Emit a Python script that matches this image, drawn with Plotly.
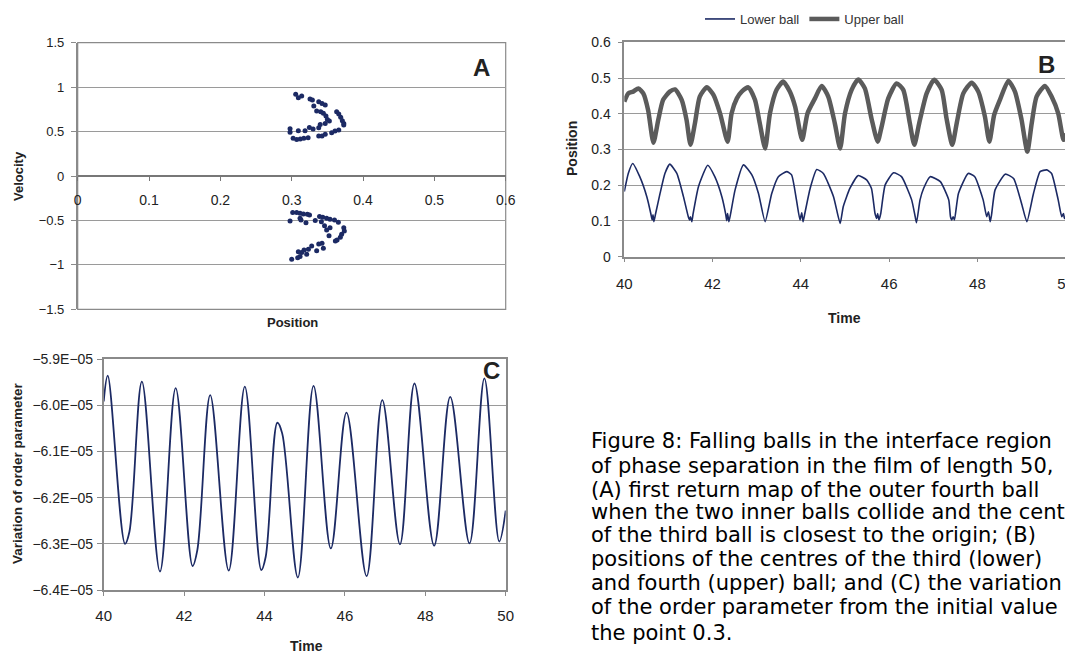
import plotly.graph_objects as go

# ---------------- Panel A : first return map ----------------
a_pos_up = [0.3056, 0.3093, 0.3140, 0.3257, 0.3290, 0.3310, 0.3379, 0.3425, 0.3470, 0.3350,
            0.3407, 0.3444, 0.3480, 0.3500, 0.3528, 0.3470, 0.3630, 0.3660, 0.3687, 0.3710,
            0.3730, 0.3730, 0.3400, 0.3379, 0.3300, 0.3248, 0.3187, 0.3093, 0.2977, 0.2977,
            0.3020, 0.3070, 0.3120, 0.3170, 0.3230, 0.3379, 0.3425, 0.3470, 0.3560, 0.3607,
            0.3660]
a_vel_up = [0.919, 0.881, 0.900, 0.866, 0.855, 0.787, 0.836, 0.817, 0.799, 0.731,
            0.724, 0.705, 0.675, 0.637, 0.619, 0.592, 0.724, 0.697, 0.660, 0.622,
            0.592, 0.574, 0.580, 0.544, 0.529, 0.547, 0.510, 0.510, 0.532, 0.491,
            0.424, 0.412, 0.416, 0.424, 0.431, 0.450, 0.450, 0.469, 0.487, 0.506,
            0.517]
a_pos_dn = [0.3014, 0.3070, 0.3117, 0.3164, 0.3220, 0.3250, 0.2977, 0.3117, 0.3130, 0.3200,
            0.3330, 0.3390, 0.3435, 0.3490, 0.3537, 0.3600, 0.3654, 0.3416, 0.3460, 0.3490,
            0.3523, 0.3537, 0.3730, 0.3738, 0.3700, 0.3682, 0.3636, 0.3612, 0.3425, 0.3379,
            0.3444, 0.3350, 0.3280, 0.3234, 0.3173, 0.3140, 0.3093, 0.3210, 0.3117, 0.3084,
            0.3000]
a_vel_dn = [-0.412, -0.412, -0.420, -0.427, -0.431, -0.439, -0.506, -0.476, -0.495, -0.525,
            -0.502, -0.457, -0.465, -0.476, -0.487, -0.495, -0.521, -0.514, -0.559, -0.607,
            -0.671, -0.581, -0.581, -0.619, -0.656, -0.690, -0.720, -0.731, -0.757, -0.765,
            -0.814, -0.840, -0.787, -0.825, -0.832, -0.862, -0.851, -0.881, -0.907, -0.919,
            -0.937]

# ---------------- Panel B : ball positions ----------------
b_t_upper = [40.00, 40.09, 40.20, 40.32, 40.43, 40.54, 40.66, 40.77, 40.88, 41.03, 41.15, 41.30,
             41.41, 41.50, 41.60, 41.71, 41.87, 42.02, 42.17, 42.34, 42.43, 42.55, 42.66, 42.81,
             42.96, 43.07, 43.19, 43.30, 43.45, 43.60, 43.75, 43.87, 44.03, 44.15, 44.32, 44.47,
             44.62, 44.77, 44.89, 45.00, 45.15, 45.30, 45.45, 45.60, 45.74, 45.83, 45.98, 46.17,
             46.32, 46.47, 46.57, 46.68, 46.85, 47.02, 47.19, 47.30, 47.43, 47.53, 47.68, 47.87,
             48.02, 48.17, 48.27, 48.38, 48.51, 48.70, 48.85, 49.00, 49.13, 49.23, 49.34, 49.53,
             49.68, 49.83, 49.95, 50.00]
b_upper = [0.434, 0.457, 0.462, 0.471, 0.457, 0.410, 0.319, 0.383, 0.439, 0.462, 0.468, 0.439,
           0.383, 0.313, 0.373, 0.448, 0.474, 0.453, 0.401, 0.322, 0.401, 0.443, 0.462, 0.474,
           0.439, 0.373, 0.303, 0.401, 0.467, 0.490, 0.462, 0.420, 0.327, 0.401, 0.443, 0.478,
           0.448, 0.373, 0.303, 0.401, 0.467, 0.496, 0.471, 0.387, 0.322, 0.364, 0.443, 0.485,
           0.467, 0.373, 0.313, 0.373, 0.457, 0.495, 0.467, 0.387, 0.313, 0.373, 0.457, 0.487,
           0.462, 0.392, 0.322, 0.397, 0.439, 0.492, 0.462, 0.383, 0.294, 0.373, 0.448, 0.478,
           0.448, 0.401, 0.327, 0.345]

b_t_lower = [40.00, 40.09, 40.19, 40.35, 40.51, 40.60, 40.63, 40.65, 40.67, 40.71, 40.81, 40.92,
             41.03, 41.19, 41.34, 41.45, 41.48, 41.50, 41.53, 41.56, 41.68, 41.89, 42.05, 42.21,
             42.30, 42.32, 42.34, 42.37, 42.41, 42.51, 42.70, 42.89, 43.04, 43.19, 43.34, 43.49,
             43.68, 43.79, 43.90, 43.98, 44.02, 44.05, 44.09, 44.21, 44.36, 44.51, 44.74, 44.89,
             44.96, 45.11, 45.30, 45.49, 45.60, 45.68, 45.72, 45.74, 45.77, 45.81, 45.91, 46.10,
             46.28, 46.51, 46.59, 46.62, 46.70, 46.78, 46.93, 47.16, 47.35, 47.39, 47.42, 47.45,
             47.48, 47.57, 47.79, 47.94, 48.13, 48.21, 48.25, 48.29, 48.32, 48.40, 48.63, 48.82,
             49.00, 49.12, 49.27, 49.42, 49.57, 49.68, 49.83, 49.91, 49.95, 49.97, 50.00]
b_lower = [0.182, 0.233, 0.261, 0.224, 0.168, 0.121, 0.103, 0.117, 0.098, 0.121, 0.177, 0.233,
           0.259, 0.233, 0.168, 0.112, 0.103, 0.112, 0.098, 0.121, 0.196, 0.256, 0.224, 0.168,
           0.117, 0.101, 0.121, 0.098, 0.121, 0.187, 0.257, 0.229, 0.177, 0.098, 0.177, 0.224,
           0.238, 0.229, 0.159, 0.103, 0.123, 0.098, 0.121, 0.191, 0.244, 0.233, 0.168, 0.093,
           0.140, 0.191, 0.227, 0.215, 0.191, 0.121, 0.107, 0.121, 0.103, 0.121, 0.201, 0.235,
           0.224, 0.159, 0.112, 0.095, 0.159, 0.191, 0.224, 0.210, 0.159, 0.112, 0.103, 0.112,
           0.103, 0.177, 0.233, 0.224, 0.159, 0.112, 0.126, 0.098, 0.117, 0.187, 0.231, 0.219,
           0.149, 0.098, 0.177, 0.238, 0.243, 0.233, 0.159, 0.112, 0.121, 0.107, 0.112]

# ---------------- Panel C : order parameter ----------------
c_t = [40.00, 40.10, 40.53, 40.64, 40.95, 41.40, 41.79, 42.21, 42.33, 42.65, 43.11, 43.51,
       43.92, 44.03, 44.32, 44.44, 44.83, 45.22, 45.65, 46.04, 46.54, 46.93, 47.37, 47.73,
       48.22, 48.62, 49.10, 49.47, 49.84, 50.00]
c_val = [-5.992e-5, -5.936e-5, -6.300e-5, -6.274e-5, -5.949e-5, -6.360e-5, -5.963e-5, -6.348e-5,
         -6.313e-5, -5.978e-5, -6.358e-5, -5.960e-5, -6.357e-5, -6.328e-5, -6.038e-5, -6.061e-5,
         -6.373e-5, -5.958e-5, -6.310e-5, -6.016e-5, -6.370e-5, -5.989e-5, -6.301e-5, -5.953e-5,
         -6.304e-5, -5.982e-5, -6.299e-5, -5.942e-5, -6.295e-5, -6.228e-5]
c_tickvals = [-5.9e-5, -6.0e-5, -6.1e-5, -6.2e-5, -6.3e-5, -6.4e-5]
c_ticktext = ["\u22125.9E\u221205", "\u22126.0E\u221205", "\u22126.1E\u221205",
              "\u22126.2E\u221205", "\u22126.3E\u221205", "\u22126.4E\u221205"]

caption_lines = [
    "Figure 8: Falling balls in the interface region",
    "of phase separation in the film of length 50,",
    "(A) first return map of the outer fourth ball",
    "when the two inner balls collide and the centre",
    "of the third ball is closest to the origin; (B)",
    "positions of the centres of the third (lower)",
    "and fourth (upper) ball; and (C) the variation",
    "of the order parameter from the initial value at",
    "the point 0.3.",
]
caption_baselines = [448, 473, 497, 519, 542, 566, 590, 614, 640]

# ---------------- figure ----------------
# the page body keeps an 8px margin, so the figure is 8px smaller and every
# pixel position below is given in window pixels and shifted by OFF
OFF = 8
W, H = 1073 - OFF, 657 - OFF
NAVY = "#1c2a64"
GRAY = "#5b5b5b"
GRID = "#9a9a9a"
AX = "#8a8a8a"
FONT = "Liberation Sans"

def px(x):
    return (x - OFF) / W

def py(y):
    return 1 - (y - OFF) / H

fig = go.Figure()

fig.add_trace(go.Scatter(x=a_pos_up + a_pos_dn, y=a_vel_up + a_vel_dn, mode="markers",
                         marker=dict(size=5, color=NAVY), showlegend=False,
                         xaxis="x", yaxis="y"))
fig.add_trace(go.Scatter(x=b_t_lower, y=b_lower, mode="lines", name="Lower ball",
                         line=dict(color=NAVY, width=1.6, shape="spline", smoothing=0.5),
                         xaxis="x2", yaxis="y2"))
fig.add_trace(go.Scatter(x=b_t_upper, y=b_upper, mode="lines", name="Upper ball",
                         line=dict(color=GRAY, width=4.5, shape="spline", smoothing=0.6),
                         xaxis="x2", yaxis="y2"))
fig.add_trace(go.Scatter(x=c_t, y=c_val, mode="lines", showlegend=False,
                         line=dict(color=NAVY, width=1.8, shape="spline", smoothing=1.0),
                         xaxis="x3", yaxis="y3"))

A_x = [px(77.7), px(505.7)]
A_y = [py(309.3), py(42.7)]
B_x = [px(624.3), px(1065.7)]
B_y = [py(256.7), py(42.3)]
C_x = [px(103.7), px(505.7)]
C_y = [py(590), py(359)]

def tf(size):
    return dict(family=FONT, size=size, color="#222222")

common = dict(zeroline=False, showline=True, linecolor=AX, linewidth=1.5,
              ticks="outside", tickcolor=AX, automargin=False, ticklabeloverflow="allow")

fig.update_layout(
    width=W, height=H, autosize=False,
    margin=dict(l=0, r=0, t=0, b=0, autoexpand=False),
    paper_bgcolor="white", plot_bgcolor="white",
    font=dict(family=FONT, color="#222222"),
    xaxis=dict(domain=A_x, range=[0, 0.6], dtick=0.1, anchor="free",
               position=(A_y[0] + A_y[1]) / 2, showgrid=False, ticklen=4,
               ticklabelstandoff=7,
               tickfont=tf(14), **{**common, "linecolor": "#777777", "tickcolor": "#777777"}),
    yaxis=dict(domain=A_y, range=[-1.5, 1.5], dtick=0.5, anchor="x", ticklabelstandoff=4,
               showgrid=True, gridcolor=GRID, ticklen=5, tickfont=tf(13), **common),
    xaxis2=dict(domain=B_x, range=[40, 50], dtick=2, anchor="y2", mirror=True,
                ticklabelstandoff=9,
                showgrid=False, ticklen=4, tickfont=tf(15), **common),
    yaxis2=dict(domain=B_y, range=[0, 0.6], dtick=0.1, anchor="x2", mirror=True,
                ticklabelstandoff=4,
                showgrid=True, gridcolor=GRID, ticklen=5, tickfont=tf(14), **common),
    xaxis3=dict(domain=C_x, range=[40, 50], dtick=2, anchor="y3", mirror=True,
                ticklabelstandoff=7,
                showgrid=False, ticklen=4, tickfont=tf(15), **common),
    yaxis3=dict(domain=C_y, range=[-6.4e-5, -5.9e-5], anchor="x3", mirror=True,
                tickvals=c_tickvals, ticktext=c_ticktext, ticklabelstandoff=1,
                showgrid=True, gridcolor=GRID, ticklen=5, tickfont=tf(14), **common),
    legend=dict(orientation="h", x=px(700), y=py(19), xanchor="left", yanchor="middle",
                font=dict(family=FONT, size=13, color="#333333"),
                bgcolor="rgba(0,0,0,0)", itemwidth=30, tracegroupgap=0),
    showlegend=True,
)

# box round panel A
fig.add_shape(type="rect", xref="x domain", yref="y domain", x0=0, x1=1, y0=0, y1=1,
              line=dict(color=AX, width=1.2), layer="below")

ann = []
def title(text, x, y, size=12, angle=0):
    ann.append(dict(text="<b>%s</b>" % text, x=px(x), y=py(y), xref="paper", yref="paper",
                    showarrow=False, textangle=angle, font=tf(size),
                    xanchor="center", yanchor="middle"))

title("Position", 292, 322, 13)
title("Velocity", 18, 176, 13, -90)
title("Time", 844, 318, 14)
title("Position", 572, 149, 14, -90)
title("Time", 306, 646, 14)
title("Variation of order parameter", 17, 473, 13.5, -90)
title("A", 481, 68, 24)
title("B", 1046, 64, 24)
title("C", 491, 370, 24)

for line, base in zip(caption_lines, caption_baselines):
    ann.append(dict(text=line, x=px(590), y=py(base - 7), xref="paper", yref="paper",
                    showarrow=False, xanchor="left", yanchor="middle", borderpad=0,
                    font=dict(family="DejaVu Sans", size=21, color="black")))

fig.update_layout(annotations=ann)
fig.write_html("out.html")
